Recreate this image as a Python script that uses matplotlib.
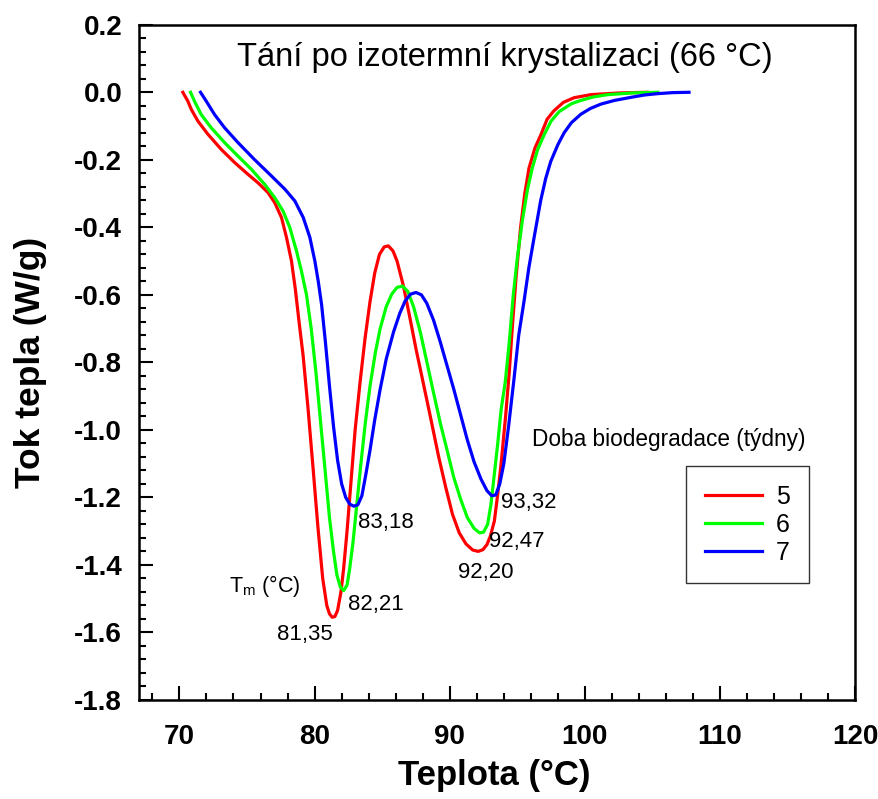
import matplotlib
matplotlib.use("Agg")
import matplotlib.pyplot as plt
from matplotlib.ticker import MultipleLocator, FormatStrFormatter

plt.rcParams['font.family'] = ['Liberation Sans', 'DejaVu Sans']

# ---- data ----
t5 = [70.25, 70.62, 70.87, 71.36, 72.1, 73.09, 74.08, 75.07, 75.81, 76.55, 77.05, 77.55, 77.92,
      78.29, 78.58, 78.85, 79.15, 79.5, 79.9, 80.25, 80.6, 80.9, 81.1, 81.3, 81.5, 81.7, 81.95,
      82.15, 82.4, 82.7, 83.0, 83.36, 83.73, 84.1, 84.45, 84.8, 85.15, 85.46, 85.8, 86.1, 86.58,
      87.07, 87.5, 87.82, 88.56, 89.18, 89.7, 90.2, 90.7, 91.2, 91.7, 92.1, 92.45, 92.75, 93.0,
      93.3, 93.55, 93.8, 94.13, 94.4, 94.62, 94.9, 95.24, 95.55, 95.86, 96.3, 96.73, 97.2, 97.7,
      98.4, 99.2, 100.44, 102.5, 104.6]
f5 = [0.0, -0.026, -0.05, -0.085, -0.124, -0.169, -0.208, -0.243, -0.268, -0.297, -0.327, -0.371,
      -0.43, -0.50, -0.585, -0.68, -0.78, -0.93, -1.12, -1.29, -1.44, -1.52, -1.545, -1.555, -1.553,
      -1.535, -1.48, -1.41, -1.30, -1.15, -1.0, -0.86, -0.73, -0.62, -0.535, -0.48, -0.458, -0.455,
      -0.47, -0.50, -0.575, -0.672, -0.76, -0.82, -0.96, -1.08, -1.17, -1.25, -1.305, -1.338, -1.356,
      -1.36, -1.355, -1.34, -1.315, -1.27, -1.19, -1.10, -0.96, -0.83, -0.70, -0.55, -0.40, -0.30,
      -0.225, -0.165, -0.127, -0.08, -0.055, -0.03, -0.016, -0.007, -0.002, 0.0]

t6 = [70.82, 71.11, 71.61, 72.35, 73.34, 74.33, 75.32, 76.31, 77.05, 77.67, 78.17, 78.66, 79.03,
      79.4, 79.75, 80.1, 80.45, 80.8, 81.1, 81.4, 81.65, 81.9, 82.15, 82.4, 82.6, 82.85, 83.1,
      83.4, 83.75, 84.1, 84.5, 84.85, 85.3, 85.72, 86.1, 86.5, 86.9, 87.32, 87.82, 88.31, 88.8,
      89.3, 89.8, 90.29, 90.8, 91.3, 91.8, 92.2, 92.5, 92.8, 93.05, 93.3, 93.55, 93.8, 94.1, 94.38,
      94.7, 95.0, 95.37, 95.74, 96.1, 96.5, 96.98, 97.5, 98.1, 99.0, 99.7, 100.6, 101.68, 103.5,
      105.4]
f6 = [0.0, -0.026, -0.066, -0.105, -0.149, -0.189, -0.228, -0.273, -0.312, -0.352, -0.401, -0.47,
      -0.53, -0.60, -0.70, -0.83, -0.98, -1.13, -1.26, -1.36, -1.43, -1.465, -1.476, -1.46, -1.41,
      -1.33, -1.23, -1.11, -0.98, -0.87, -0.77, -0.70, -0.635, -0.597, -0.578, -0.574, -0.59,
      -0.635, -0.71, -0.80, -0.89, -0.98, -1.06, -1.14, -1.205, -1.26, -1.292, -1.305, -1.303,
      -1.28, -1.22, -1.13, -1.04, -0.94, -0.86, -0.75, -0.60, -0.49, -0.38, -0.29, -0.225, -0.17,
      -0.126, -0.085, -0.057, -0.034, -0.024, -0.014, -0.007, -0.002, 0.0]

t7 = [71.56, 71.98, 72.6, 73.34, 74.33, 75.57, 76.81, 77.8, 78.54, 79.16, 79.65, 80.02, 80.27,
      80.52, 80.8, 81.1, 81.4, 81.7, 82.0, 82.3, 82.6, 82.9, 83.2, 83.5, 83.8, 84.1, 84.45, 84.85,
      85.3, 85.84, 86.3, 86.7, 87.1, 87.5, 87.9, 88.3, 88.8, 89.3, 89.8, 90.3, 90.8, 91.3, 91.8,
      92.3, 92.75, 93.1, 93.4, 93.7, 94.0, 94.35, 94.75, 95.1, 95.49, 95.85, 96.24, 96.73, 97.1,
      97.47, 98.0, 98.46, 99.0, 99.7, 100.4, 101.18, 102.2, 103.4, 104.4, 105.4, 106.5, 107.7]
f7 = [0.0, -0.026, -0.066, -0.105, -0.149, -0.2, -0.248, -0.287, -0.322, -0.371, -0.43, -0.50,
      -0.56, -0.63, -0.74, -0.87, -0.99, -1.09, -1.16, -1.20, -1.22, -1.226, -1.222, -1.195, -1.13,
      -1.06, -0.97, -0.88, -0.79, -0.71, -0.655, -0.618, -0.598, -0.593, -0.60, -0.625, -0.675,
      -0.74, -0.81, -0.88, -0.955, -1.03, -1.095, -1.145, -1.18, -1.195, -1.193, -1.16, -1.10,
      -0.99, -0.85, -0.72, -0.62, -0.52, -0.43, -0.32, -0.255, -0.205, -0.155, -0.12, -0.09,
      -0.065, -0.048, -0.035, -0.024, -0.015, -0.008, -0.004, -0.001, 0.0]

series_labels = ["5", "6", "7"]
series_colors = ["#ff0000", "#00ff00", "#0000ff"]

# peak annotations
peak_texts = ["81,35", "82,21", "83,18", "92,20", "92,47", "93,32"]
peak_tx = [79.28, 84.55, 85.29, 92.64, 94.94, 95.84]
peak_ty = [-1.606, -1.517, -1.273, -1.422, -1.33, -1.215]

# ---- figure ----
fig = plt.figure(figsize=(8.79, 7.99), dpi=100)
ax = fig.add_axes([0.158, 0.124, 0.815, 0.845])

for t, f, lab, c in zip([t5, t6, t7], [f5, f6, f7], series_labels, series_colors):
    ax.plot(t, f, color=c, lw=2.3, label=lab, solid_joinstyle='round')

ax.set_xlim(67, 120)
ax.set_ylim(-1.8, 0.2)
ax.xaxis.set_major_locator(MultipleLocator(10))
ax.xaxis.set_minor_locator(MultipleLocator(2))
ax.yaxis.set_major_locator(MultipleLocator(0.2))
ax.yaxis.set_minor_locator(MultipleLocator(0.04))
ax.yaxis.set_major_formatter(FormatStrFormatter('%.1f'))

ax.tick_params(which='major', direction='in', length=10, width=1.5, labelsize=20)
ax.tick_params(which='minor', direction='in', length=5, width=1.5)
ax.tick_params(axis='x', which='major', pad=17)
ax.tick_params(axis='y', which='major', pad=12)
for lbl in ax.get_xticklabels() + ax.get_yticklabels():
    lbl.set_fontweight('bold')
for s in ax.spines.values():
    s.set_linewidth(1.8)

ax.set_xlabel("Teplota (°C)", fontsize=25, fontweight='bold')
ax.set_ylabel("Tok tepla (W/g)", fontsize=25.5, fontweight='bold')
ax.xaxis.set_label_coords(0.496, -0.088)
ax.yaxis.set_label_coords(-0.128, 0.5)

ax.text(94.05, 0.103, "Tání po izotermní krystalizaci (66 °C)", fontsize=23.5,
        ha='center', va='center')
ax.text(73.64, -1.464, "T$_\\mathregular{m}$ (°C)", fontsize=15.5, ha='left', va='center')
for s, x, y in zip(peak_texts, peak_tx, peak_ty):
    ax.text(x, y, s, fontsize=16, ha='center', va='center')
ax.text(96.1, -1.028, "Doba biodegradace (týdny)", fontsize=16.3, ha='left', va='center')

leg = ax.legend(loc='upper left', bbox_to_anchor=(0.764, 0.3467), borderaxespad=0,
                fontsize=18, handlelength=2.3, handletextpad=0.55, labelspacing=0.16,
                borderpad=0.75, fancybox=False, frameon=True)
leg.get_frame().set_edgecolor('black')
leg.get_frame().set_linewidth(1.0)

fig.savefig("out.png", dpi=100)
